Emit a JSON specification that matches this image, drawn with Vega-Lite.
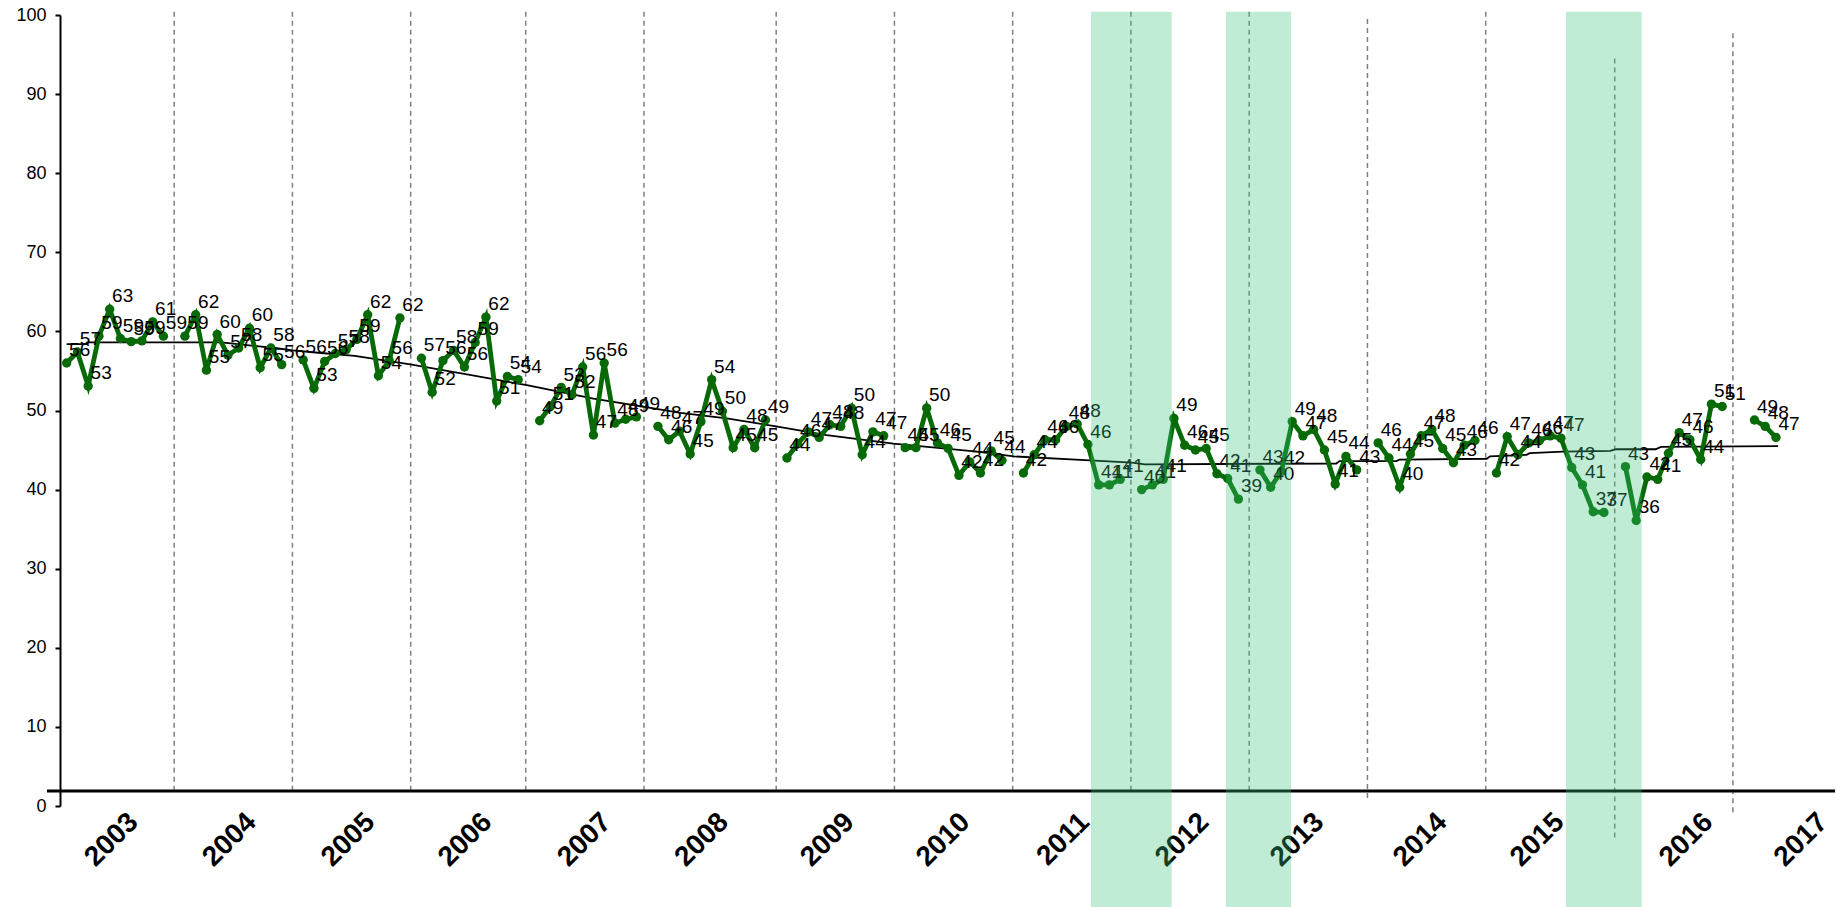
{
  "$schema": "https://vega.github.io/schema/vega-lite/v6.json",
  "width": 1774,
  "height": 791,
  "autosize": "none",
  "padding": {"left": 60, "top": 15, "right": 3, "bottom": 101},
  "background": "white",
  "config": {"view": {"stroke": null}, "font": "Liberation Sans"},
  "datasets": {
    "polls": [
      {"yr":"2003","t":0,"v":56.0},{"yr":"2003","t":1,"v":57.4},{"yr":"2003","t":2,"v":53.1},{"yr":"2003","t":3,"v":59.4},{"yr":"2003","t":4,"v":62.8},{"yr":"2003","t":5,"v":59.1},{"yr":"2003","t":6,"v":58.7},{"yr":"2003","t":7,"v":58.8},{"yr":"2003","t":8,"v":61.2},{"yr":"2003","t":9,"v":59.4},
      {"yr":"2004","t":11,"v":59.4},{"yr":"2004","t":12,"v":62.1},{"yr":"2004","t":13,"v":55.1},{"yr":"2004","t":14,"v":59.6},{"yr":"2004","t":15,"v":57.0},{"yr":"2004","t":16,"v":57.9},{"yr":"2004","t":17,"v":60.4},{"yr":"2004","t":18,"v":55.4},{"yr":"2004","t":19,"v":57.9},{"yr":"2004","t":20,"v":55.8},
      {"yr":"2005","t":22,"v":56.4},{"yr":"2005","t":23,"v":52.8},{"yr":"2005","t":24,"v":56.2},{"yr":"2005","t":25,"v":57.2},{"yr":"2005","t":26,"v":57.7},{"yr":"2005","t":27,"v":59.0},{"yr":"2005","t":28,"v":62.1},{"yr":"2005","t":29,"v":54.4},{"yr":"2005","t":30,"v":56.3},{"yr":"2005","t":31,"v":61.7},
      {"yr":"2006","t":33,"v":56.6},{"yr":"2006","t":34,"v":52.3},{"yr":"2006","t":35,"v":56.3},{"yr":"2006","t":36,"v":57.6},{"yr":"2006","t":37,"v":55.5},{"yr":"2006","t":38,"v":58.6},{"yr":"2006","t":39,"v":61.8},{"yr":"2006","t":40,"v":51.2},{"yr":"2006","t":41,"v":54.3},{"yr":"2006","t":42,"v":53.9},
      {"yr":"2007","t":44,"v":48.7},{"yr":"2007","t":45,"v":50.5},{"yr":"2007","t":46,"v":52.9},{"yr":"2007","t":47,"v":52.0},{"yr":"2007","t":48,"v":55.5},{"yr":"2007","t":49,"v":46.9},{"yr":"2007","t":50,"v":56.0},{"yr":"2007","t":51,"v":48.4},{"yr":"2007","t":52,"v":48.9},{"yr":"2007","t":53,"v":49.2},
      {"yr":"2008","t":55,"v":48.0},{"yr":"2008","t":56,"v":46.3},{"yr":"2008","t":57,"v":47.4},{"yr":"2008","t":58,"v":44.5},{"yr":"2008","t":59,"v":48.6},{"yr":"2008","t":60,"v":53.9},{"yr":"2008","t":61,"v":49.9},{"yr":"2008","t":62,"v":45.3},{"yr":"2008","t":63,"v":47.6},{"yr":"2008","t":64,"v":45.3},{"yr":"2008","t":65,"v":48.8},
      {"yr":"2009","t":67,"v":44.0},{"yr":"2009","t":68,"v":45.8},{"yr":"2009","t":69,"v":47.3},{"yr":"2009","t":70,"v":46.6},{"yr":"2009","t":71,"v":48.2},{"yr":"2009","t":72,"v":48.0},{"yr":"2009","t":73,"v":50.3},{"yr":"2009","t":74,"v":44.4},{"yr":"2009","t":75,"v":47.3},{"yr":"2009","t":76,"v":46.8},
      {"yr":"2010","t":78,"v":45.3},{"yr":"2010","t":79,"v":45.3},{"yr":"2010","t":80,"v":50.3},{"yr":"2010","t":81,"v":45.9},{"yr":"2010","t":82,"v":45.2},{"yr":"2010","t":83,"v":41.8},{"yr":"2010","t":84,"v":43.5},{"yr":"2010","t":85,"v":42.1},{"yr":"2010","t":86,"v":44.9},{"yr":"2010","t":87,"v":43.7},
      {"yr":"2011","t":89,"v":42.1},{"yr":"2011","t":90,"v":44.4},{"yr":"2011","t":91,"v":46.3},{"yr":"2011","t":92,"v":46.3},{"yr":"2011","t":93,"v":48.0},{"yr":"2011","t":94,"v":48.3},{"yr":"2011","t":95,"v":45.7},{"yr":"2011","t":96,"v":40.6},{"yr":"2011","t":97,"v":40.6},{"yr":"2011","t":98,"v":41.3},
      {"yr":"2012","t":100,"v":40.0},{"yr":"2012","t":101,"v":40.6},{"yr":"2012","t":102,"v":41.3},{"yr":"2012","t":103,"v":49.0},{"yr":"2012","t":104,"v":45.6},{"yr":"2012","t":105,"v":45.0},{"yr":"2012","t":106,"v":45.2},{"yr":"2012","t":107,"v":42.0},{"yr":"2012","t":108,"v":41.4},{"yr":"2012","t":109,"v":38.8},
      {"yr":"2013","t":111,"v":42.5},{"yr":"2013","t":112,"v":40.3},{"yr":"2013","t":113,"v":42.3},{"yr":"2013","t":114,"v":48.6},{"yr":"2013","t":115,"v":46.8},{"yr":"2013","t":116,"v":47.6},{"yr":"2013","t":117,"v":45.0},{"yr":"2013","t":118,"v":40.7},{"yr":"2013","t":119,"v":44.2},{"yr":"2013","t":120,"v":42.5},
      {"yr":"2014","t":122,"v":45.9},{"yr":"2014","t":123,"v":44.0},{"yr":"2014","t":124,"v":40.3},{"yr":"2014","t":125,"v":44.5},{"yr":"2014","t":126,"v":46.8},{"yr":"2014","t":127,"v":47.6},{"yr":"2014","t":128,"v":45.2},{"yr":"2014","t":129,"v":43.4},{"yr":"2014","t":130,"v":45.6},{"yr":"2014","t":131,"v":46.2},
      {"yr":"2015","t":133,"v":42.1},{"yr":"2015","t":134,"v":46.7},{"yr":"2015","t":135,"v":44.4},{"yr":"2015","t":136,"v":45.9},{"yr":"2015","t":137,"v":46.2},{"yr":"2015","t":138,"v":46.8},{"yr":"2015","t":139,"v":46.5},{"yr":"2015","t":140,"v":42.8},{"yr":"2015","t":141,"v":40.6},{"yr":"2015","t":142,"v":37.2},{"yr":"2015","t":143,"v":37.1},
      {"yr":"2016","t":145,"v":42.9},{"yr":"2016","t":146,"v":36.1},{"yr":"2016","t":147,"v":41.6},{"yr":"2016","t":148,"v":41.3},{"yr":"2016","t":149,"v":44.6},{"yr":"2016","t":150,"v":47.2},{"yr":"2016","t":151,"v":46.3},{"yr":"2016","t":152,"v":43.8},{"yr":"2016","t":153,"v":50.8},{"yr":"2016","t":154,"v":50.5},
      {"yr":"2017","t":157,"v":48.8},{"yr":"2017","t":158,"v":48.0},{"yr":"2017","t":159,"v":46.6}
    ],
    "trend": [
      {"t":0,"v":58.4},{"t":1.8,"v":58.4},{"t":1.9,"v":58.6},{"t":14.4,"v":58.6},{"t":19.4,"v":57.9},{"t":21,"v":57.6},{"t":23.4,"v":57.3},{"t":26.8,"v":56.9},{"t":32.1,"v":55.8},{"t":37.5,"v":54.5},{"t":42.8,"v":53.2},{"t":49,"v":51.5},{"t":53.6,"v":50.5},{"t":57.1,"v":49.7},{"t":61.4,"v":49.0},{"t":66,"v":48.0},{"t":70.7,"v":46.9},{"t":76.9,"v":45.8},{"t":84.7,"v":44.8},{"t":88.1,"v":44.2},{"t":95.2,"v":43.7},{"t":99.1,"v":43.4},{"t":100.3,"v":43.2},{"t":118.1,"v":43.3},{"t":118.4,"v":43.6},{"t":123.7,"v":43.6},{"t":124,"v":43.8},{"t":132.1,"v":43.9},{"t":132.4,"v":44.2},{"t":135.8,"v":44.4},{"t":136.1,"v":44.6},{"t":139.2,"v":44.8},{"t":143.6,"v":44.9},{"t":144.1,"v":45.1},{"t":147.8,"v":45.1},{"t":148.3,"v":45.4},{"t":159.2,"v":45.5}
    ],
    "dashes": [
      {"t":10,"top":100.4,"bot":1.6},{"t":21,"top":100.4,"bot":1.6},{"t":32,"top":100.4,"bot":1.6},{"t":42.7,"top":100.4,"bot":1.6},{"t":53.7,"top":100.4,"bot":1.6},{"t":66,"top":100.4,"bot":1.6},{"t":77,"top":100.4,"bot":1.6},{"t":88,"top":100.4,"bot":1.6},{"t":99,"top":100.4,"bot":1.6},{"t":110,"top":100.4,"bot":1.6},{"t":121,"top":99.5,"bot":0.5},{"t":132,"top":100.4,"bot":1.6},{"t":144,"top":94.5,"bot":-4.4},{"t":155,"top":97.7,"bot":-1.0}
    ],
    "bands": [
      {"t1":95.28,"t2":102.79},{"t1":107.84,"t2":113.89},{"t1":139.47,"t2":146.51}
    ],
    "years": [
      {"yr":"2003","t":5.14},{"yr":"2004","t":16.12},{"yr":"2005","t":27.15},{"yr":"2006","t":38.05},{"yr":"2007","t":49.14},{"yr":"2008","t":60.03},{"yr":"2009","t":71.73},{"yr":"2010","t":82.51},{"yr":"2011","t":93.61},{"yr":"2012","t":104.74},{"yr":"2013","t":115.43},{"yr":"2014","t":126.87},{"yr":"2015","t":137.77},{"yr":"2016","t":151.61},{"yr":"2017","t":162.3}
    ]
  },
  "layer": [
    {
      "data": {"name": "dashes"},
      "mark": {"type": "rule", "color": "#808080", "strokeWidth": 1.5, "strokeDash": [5, 4]},
      "encoding": {
        "x": {"field": "t", "type": "quantitative", "scale": {"domain": [-0.62, 164.4], "nice": false, "zero": false}, "axis": null},
        "y": {"field": "top", "type": "quantitative", "scale": {"domain": [0, 100], "nice": false}, "axis": {"values": [0,10,20,30,40,50,60,70,80,90,100], "title": null, "grid": false, "domainColor": "#000000", "domainWidth": 2, "tickColor": "#000000", "tickWidth": 2, "tickSize": 5, "labelFontSize": 18, "labelColor": "#000000", "labelPadding": 9, "labelFont": "Liberation Sans"}},
        "y2": {"field": "bot"}
      }
    },
    {
      "data": {"name": "trend"},
      "mark": {"type": "line", "color": "#000000", "strokeWidth": 1.8},
      "encoding": {
        "x": {"field": "t", "type": "quantitative", "scale": {"domain": [-0.62, 164.4], "nice": false, "zero": false}, "axis": null},
        "y": {"field": "v", "type": "quantitative", "scale": {"domain": [0, 100], "nice": false}}
      }
    },
    {
      "data": {"name": "polls"},
      "mark": {"type": "line", "color": "#076a07", "strokeWidth": 4.8},
      "encoding": {
        "x": {"field": "t", "type": "quantitative", "scale": {"domain": [-0.62, 164.4], "nice": false, "zero": false}, "axis": null},
        "y": {"field": "v", "type": "quantitative", "scale": {"domain": [0, 100], "nice": false}},
        "detail": {"field": "yr"}
      }
    },
    {
      "data": {"name": "polls"},
      "mark": {"type": "circle", "color": "#076a07", "size": 88, "opacity": 1},
      "encoding": {
        "x": {"field": "t", "type": "quantitative", "scale": {"domain": [-0.62, 164.4], "nice": false, "zero": false}, "axis": null},
        "y": {"field": "v", "type": "quantitative", "scale": {"domain": [0, 100], "nice": false}}
      }
    },
    {
      "data": {"name": "polls"},
      "mark": {"type": "text", "fontSize": 19, "color": "#000000", "dx": 13, "dy": -13, "font": "Liberation Sans"},
      "encoding": {
        "x": {"field": "t", "type": "quantitative", "scale": {"domain": [-0.62, 164.4], "nice": false, "zero": false}, "axis": null},
        "y": {"field": "v", "type": "quantitative", "scale": {"domain": [0, 100], "nice": false}},
        "text": {"field": "v", "type": "quantitative", "format": ".0f"}
      }
    },
    {
      "data": {"values": [{}]},
      "mark": {"type": "rule", "color": "#000000", "strokeWidth": 3},
      "encoding": {
        "x": {"datum": -1.83, "type": "quantitative", "scale": {"domain": [-0.62, 164.4], "nice": false, "zero": false}, "axis": null},
        "x2": {"datum": 164.5},
        "y": {"datum": 1.9, "type": "quantitative", "scale": {"domain": [0, 100], "nice": false}}
      }
    },
    {
      "data": {"name": "years"},
      "mark": {"type": "text", "angle": 315, "align": "right", "baseline": "top", "fontSize": 28, "fontWeight": "bold", "color": "#000000", "dy": 3, "font": "Liberation Sans"},
      "encoding": {
        "x": {"field": "t", "type": "quantitative", "scale": {"domain": [-0.62, 164.4], "nice": false, "zero": false}, "axis": null},
        "y": {"datum": 0, "type": "quantitative", "scale": {"domain": [0, 100], "nice": false}},
        "text": {"field": "yr"}
      }
    },
    {
      "data": {"name": "bands"},
      "mark": {"type": "rect", "color": "#3cc47c", "opacity": 0.32},
      "encoding": {
        "x": {"field": "t1", "type": "quantitative", "scale": {"domain": [-0.62, 164.4], "nice": false, "zero": false}, "axis": null},
        "x2": {"field": "t2"},
        "y": {"datum": 100.4, "type": "quantitative", "scale": {"domain": [0, 100], "nice": false}},
        "y2": {"datum": -12.8}
      }
    }
  ]
}
